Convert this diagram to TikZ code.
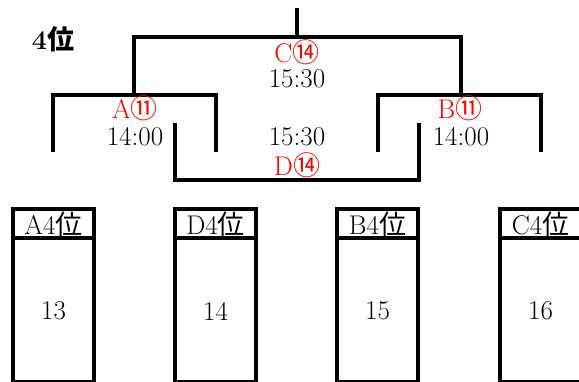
\documentclass[tikz,border=0pt]{standalone}
\usepackage{fontspec}
\newfontfamily\jp{Noto Sans CJK JP}
\usepackage{xcolor}

\begin{document}
\begin{tikzpicture}[x=1pt,y=-1pt,
    linea/.style={black, line width=3.5pt},
    rojo/.style={red, inner sep=0pt, font=\fontsize{27}{27}\selectfont},
    hora/.style={black, inner sep=0pt, font=\fontsize{27}{27}\selectfont},
    caja/.style={black, line width=3.5pt}]

    \useasboundingbox (0,0) rectangle (579,382);

    % titulo
    \node[inner sep=0pt, font=\fontsize{27}{27}\selectfont] (titulo) at (53,39) {\textbf{4}{\jp\bfseries 位}};

    % puntos de la llave
    \coordinate (tope) at (297,8);
    \coordinate (cima) at (297,37);
    \coordinate (ci) at (134,37);
    \coordinate (cd) at (461,37);
    \coordinate (ai) at (53,95);
    \coordinate (ad) at (216,95);
    \coordinate (bi) at (378,95);
    \coordinate (bd) at (541,95);
    \coordinate (di) at (175,180);
    \coordinate (dd) at (419,180);

    % llave final (C)
    \draw[linea] (tope) -- (cima);
    \draw[linea] (ci |- ai) -- (ci) -- (cd) -- (cd |- bi);

    % llave A
    \draw[linea] (ai |- 0,152) -- (ai) -- (ad) -- (ad |- 0,152);

    % llave B
    \draw[linea] (bi |- 0,152) -- (bi) -- (bd) -- (bd |- 0,152);

    % llave D
    \draw[linea] (di |- 0,123) -- (di) -- (dd) -- (dd |- 0,123);

    % leyendas
    \node[rojo] (c) at (297,52) {C{\jp ⑭}};
    \node[hora] (ch) at (297,79) {15:30};
    \node[rojo] (a) at (135,108) {A{\jp ⑪}};
    \node[hora] (ah) at (135,137) {14:00};
    \node[rojo] (b) at (460,108) {B{\jp ⑪}};
    \node[hora] (bh) at (461,137) {14:00};
    \node[hora] (dh) at (297,137) {15:30};
    \node[rojo] (d) at (297,165) {D{\jp ⑭}};

    % cajas de 4 puesto
    \foreach \x/\g/\n in {13/A/13, 175/D/14, 337/B/15, 500/C/16}{
        \draw[caja] (\x,209) rectangle ++(81,173);
        \draw[caja] (\x,238) -- ++(81,0);
        \node[hora] (g\n) at (\x+40.5,224) {\g4{\jp 位}};
        \node[hora] (n\n) at (\x+40.5,311) {\n};
    }

\end{tikzpicture}
\end{document}
